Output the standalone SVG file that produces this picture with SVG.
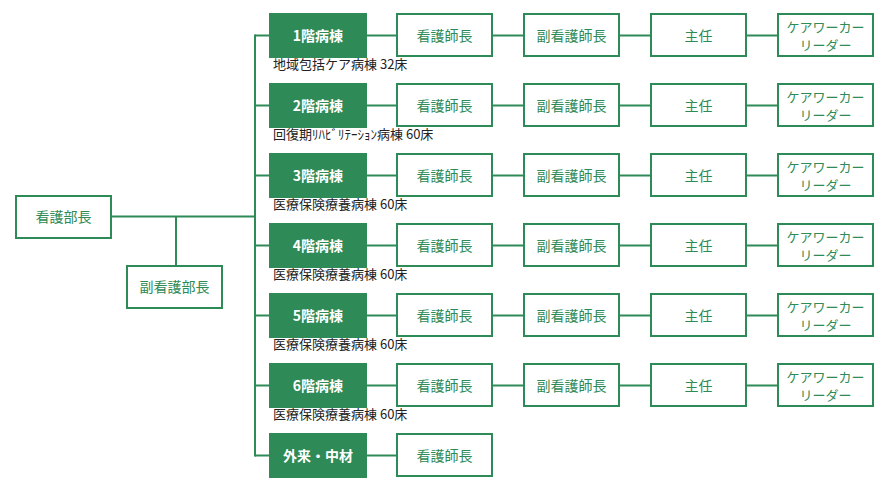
<svg xmlns="http://www.w3.org/2000/svg" width="890" height="491" viewBox="0 0 890 491">
<style>
.g rect{fill:#2e8a56;stroke:#2e8a56;stroke-width:2}
.w rect{fill:#fff;stroke:#2e8a56;stroke-width:2}
.g text{fill:#fff;font-family:"Noto Sans CJK JP","Liberation Sans",sans-serif;font-size:14px;font-weight:bold;text-anchor:middle}
.w text{fill:#2e8a56;font-family:"Noto Sans CJK JP","Liberation Sans",sans-serif;font-size:14px;text-anchor:middle}
.w text.t2{font-size:13px}
.s{fill:#222;font-family:"Noto Sans CJK JP","Liberation Sans",sans-serif;font-size:13px}
#connectors{stroke:#2e8a56;stroke-width:2}
</style>
<g id="connectors">
<line x1="111" y1="216.5" x2="255" y2="216.5"/>
<line x1="176" y1="216.5" x2="176" y2="266"/>
<line x1="255" y1="34.5" x2="255" y2="456.5"/>
<line x1="255" y1="35.5" x2="270" y2="35.5"/>
<line x1="255" y1="105.5" x2="270" y2="105.5"/>
<line x1="255" y1="175.5" x2="270" y2="175.5"/>
<line x1="255" y1="245.5" x2="270" y2="245.5"/>
<line x1="255" y1="315.5" x2="270" y2="315.5"/>
<line x1="255" y1="385.5" x2="270" y2="385.5"/>
<line x1="255" y1="455.5" x2="270" y2="455.5"/>
<line x1="366" y1="35.5" x2="397" y2="35.5"/><line x1="492" y1="35.5" x2="524" y2="35.5"/><line x1="619" y1="35.5" x2="651" y2="35.5"/><line x1="746" y1="35.5" x2="778" y2="35.5"/>
<line x1="366" y1="105.5" x2="397" y2="105.5"/><line x1="492" y1="105.5" x2="524" y2="105.5"/><line x1="619" y1="105.5" x2="651" y2="105.5"/><line x1="746" y1="105.5" x2="778" y2="105.5"/>
<line x1="366" y1="175.5" x2="397" y2="175.5"/><line x1="492" y1="175.5" x2="524" y2="175.5"/><line x1="619" y1="175.5" x2="651" y2="175.5"/><line x1="746" y1="175.5" x2="778" y2="175.5"/>
<line x1="366" y1="245.5" x2="397" y2="245.5"/><line x1="492" y1="245.5" x2="524" y2="245.5"/><line x1="619" y1="245.5" x2="651" y2="245.5"/><line x1="746" y1="245.5" x2="778" y2="245.5"/>
<line x1="366" y1="315.5" x2="397" y2="315.5"/><line x1="492" y1="315.5" x2="524" y2="315.5"/><line x1="619" y1="315.5" x2="651" y2="315.5"/><line x1="746" y1="315.5" x2="778" y2="315.5"/>
<line x1="366" y1="385.5" x2="397" y2="385.5"/><line x1="492" y1="385.5" x2="524" y2="385.5"/><line x1="619" y1="385.5" x2="651" y2="385.5"/><line x1="746" y1="385.5" x2="778" y2="385.5"/>
<line x1="366" y1="455.5" x2="397" y2="455.5"/>
</g>

<g id="n-buchou" class="w"><rect x="16" y="196" width="95" height="42"/><text x="63.5" y="222">看護部長</text></g>
<g id="n-fukubuchou" class="w"><rect x="127" y="266" width="95" height="42"/><text x="174.5" y="292">副看護部長</text></g>

<g id="f1" class="g"><rect x="270" y="14" width="96" height="43"/><text x="318" y="40.5">1階病棟</text></g>
<text class="s" x="273" y="69">地域包括ケア病棟 32床</text>
<g id="f2" class="g"><rect x="270" y="84" width="96" height="43"/><text x="318" y="110.5">2階病棟</text></g>
<text class="s" x="273" y="139">回復期ﾘﾊﾋﾞﾘﾃｰｼｮﾝ病棟 60床</text>
<g id="f3" class="g"><rect x="270" y="154" width="96" height="43"/><text x="318" y="180.5">3階病棟</text></g>
<text class="s" x="273" y="209">医療保険療養病棟 60床</text>
<g id="f4" class="g"><rect x="270" y="224" width="96" height="43"/><text x="318" y="250.5">4階病棟</text></g>
<text class="s" x="273" y="279">医療保険療養病棟 60床</text>
<g id="f5" class="g"><rect x="270" y="294" width="96" height="43"/><text x="318" y="320.5">5階病棟</text></g>
<text class="s" x="273" y="349">医療保険療養病棟 60床</text>
<g id="f6" class="g"><rect x="270" y="364" width="96" height="43"/><text x="318" y="390.5">6階病棟</text></g>
<text class="s" x="273" y="419">医療保険療養病棟 60床</text>
<g id="f7" class="g"><rect x="270" y="434" width="96" height="43"/><text x="318" y="460.5">外来・中材</text></g>

<g id="r1">
<g id="r1-a" class="w"><rect x="397" y="14" width="95" height="42"/><text x="444.5" y="40.5">看護師長</text></g>
<g id="r1-b" class="w"><rect x="524" y="14" width="95" height="42"/><text x="571.5" y="40.5">副看護師長</text></g>
<g id="r1-c" class="w"><rect x="651" y="14" width="95" height="42"/><text x="698.5" y="40.5">主任</text></g>
<g id="r1-d" class="w"><rect x="778" y="14" width="95" height="42"/><text class="t2" x="825.5" y="32">ケアワーカー</text><text class="t2" x="825.5" y="50">リーダー</text></g>
</g>
<g id="r2">
<g id="r2-a" class="w"><rect x="397" y="84" width="95" height="42"/><text x="444.5" y="110.5">看護師長</text></g>
<g id="r2-b" class="w"><rect x="524" y="84" width="95" height="42"/><text x="571.5" y="110.5">副看護師長</text></g>
<g id="r2-c" class="w"><rect x="651" y="84" width="95" height="42"/><text x="698.5" y="110.5">主任</text></g>
<g id="r2-d" class="w"><rect x="778" y="84" width="95" height="42"/><text class="t2" x="825.5" y="102">ケアワーカー</text><text class="t2" x="825.5" y="120">リーダー</text></g>
</g>
<g id="r3">
<g id="r3-a" class="w"><rect x="397" y="154" width="95" height="42"/><text x="444.5" y="180.5">看護師長</text></g>
<g id="r3-b" class="w"><rect x="524" y="154" width="95" height="42"/><text x="571.5" y="180.5">副看護師長</text></g>
<g id="r3-c" class="w"><rect x="651" y="154" width="95" height="42"/><text x="698.5" y="180.5">主任</text></g>
<g id="r3-d" class="w"><rect x="778" y="154" width="95" height="42"/><text class="t2" x="825.5" y="172">ケアワーカー</text><text class="t2" x="825.5" y="190">リーダー</text></g>
</g>
<g id="r4">
<g id="r4-a" class="w"><rect x="397" y="224" width="95" height="42"/><text x="444.5" y="250.5">看護師長</text></g>
<g id="r4-b" class="w"><rect x="524" y="224" width="95" height="42"/><text x="571.5" y="250.5">副看護師長</text></g>
<g id="r4-c" class="w"><rect x="651" y="224" width="95" height="42"/><text x="698.5" y="250.5">主任</text></g>
<g id="r4-d" class="w"><rect x="778" y="224" width="95" height="42"/><text class="t2" x="825.5" y="242">ケアワーカー</text><text class="t2" x="825.5" y="260">リーダー</text></g>
</g>
<g id="r5">
<g id="r5-a" class="w"><rect x="397" y="294" width="95" height="42"/><text x="444.5" y="320.5">看護師長</text></g>
<g id="r5-b" class="w"><rect x="524" y="294" width="95" height="42"/><text x="571.5" y="320.5">副看護師長</text></g>
<g id="r5-c" class="w"><rect x="651" y="294" width="95" height="42"/><text x="698.5" y="320.5">主任</text></g>
<g id="r5-d" class="w"><rect x="778" y="294" width="95" height="42"/><text class="t2" x="825.5" y="312">ケアワーカー</text><text class="t2" x="825.5" y="330">リーダー</text></g>
</g>
<g id="r6">
<g id="r6-a" class="w"><rect x="397" y="364" width="95" height="42"/><text x="444.5" y="390.5">看護師長</text></g>
<g id="r6-b" class="w"><rect x="524" y="364" width="95" height="42"/><text x="571.5" y="390.5">副看護師長</text></g>
<g id="r6-c" class="w"><rect x="651" y="364" width="95" height="42"/><text x="698.5" y="390.5">主任</text></g>
<g id="r6-d" class="w"><rect x="778" y="364" width="95" height="42"/><text class="t2" x="825.5" y="382">ケアワーカー</text><text class="t2" x="825.5" y="400">リーダー</text></g>
</g>
<g id="r7-a" class="w"><rect x="397" y="434" width="95" height="42"/><text x="444.5" y="460.5">看護師長</text></g>
</svg>
